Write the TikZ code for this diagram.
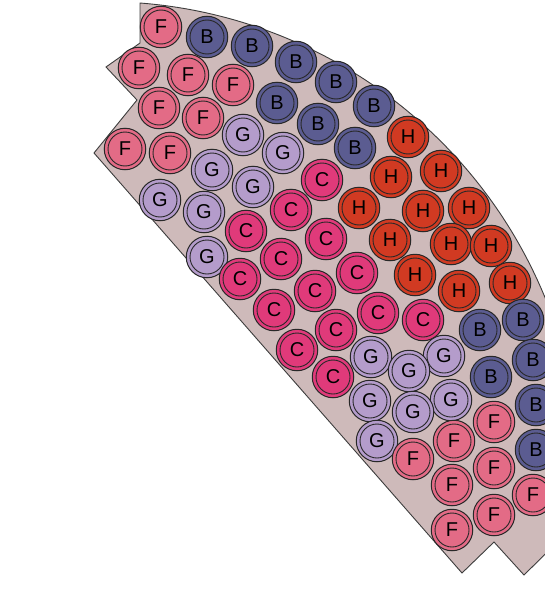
\documentclass[tikz,border=0pt]{standalone}
\usepackage{fontspec}
\setmainfont{Liberation Sans}
\definecolor{bgc}{RGB}{206,186,186}
\definecolor{colF}{RGB}{227,107,134}
\definecolor{colB}{RGB}{91,92,145}
\definecolor{colG}{RGB}{180,156,203}
\definecolor{colC}{RGB}{224,58,122}
\definecolor{colH}{RGB}{209,58,34}
\definecolor{edgec}{RGB}{40,40,40}
\tikzset{
  pinbase/.style={circle, draw=edgec, line width=1pt, minimum size=41.5pt, inner sep=0pt,
    font=\fontsize{20}{20}\selectfont, text=black,
    path picture={\draw[edgec, line width=0.9pt] (path picture bounding box.center) circle[radius=17pt];}},
  pinF/.style={pinbase, fill=colF},
  pinB/.style={pinbase, fill=colB},
  pinG/.style={pinbase, fill=colG},
  pinC/.style={pinbase, fill=colC},
  pinH/.style={pinbase, fill=colH},
  outline/.style={fill=bgc, draw=edgec!90, line width=0.9pt, line join=miter}
}
\begin{document}
\begin{tikzpicture}[x=1pt,y=-1pt]
\useasboundingbox (0,0) rectangle (545,610);
\clip (0,0) rectangle (545,610);
% outline
\coordinate (p0) at (140,3);
\draw[outline] (p0) arc[start angle=-85.56, end angle=-20, radius=478] -- (600,316) -- (600,500)
  -- (524,575) -- (494,542) -- (462,573) -- (94,153) -- (137,100) -- (106,67) -- (140,43) -- cycle;
% F
\node[pinF] (f1) at (161,27) {F};
\node[pinF] (f2) at (139,68) {F};
\node[pinF] (f3) at (188,75) {F};
\node[pinF] (f4) at (233,85) {F};
\node[pinF] (f5) at (159,108) {F};
\node[pinF] (f6) at (203,118) {F};
\node[pinF] (f7) at (125,149) {F};
\node[pinF] (f8) at (170,153) {F};
% B
\node[pinB] (b1) at (207,37) {B};
\node[pinB] (b2) at (252,46) {B};
\node[pinB] (b3) at (296,62) {B};
\node[pinB] (b4) at (336,82) {B};
\node[pinB] (b5) at (374,106) {B};
\node[pinB] (b6) at (277,103) {B};
\node[pinB] (b7) at (318,124) {B};
\node[pinB] (b8) at (355,148) {B};
% G
\node[pinG] (g1) at (243,135) {G};
\node[pinG] (g2) at (283,153) {G};
\node[pinG] (g3) at (212,170) {G};
\node[pinG] (g4) at (253,187) {G};
\node[pinG] (g5) at (160,200) {G};
\node[pinG] (g6) at (204,212) {G};
\node[pinG] (g7) at (207,257) {G};
% C
\node[pinC] (c1) at (322,180) {C};
\node[pinC] (c2) at (291,210) {C};
\node[pinC] (c3) at (246,231) {C};
\node[pinC] (c4) at (326,239) {C};
\node[pinC] (c5) at (281,259) {C};
\node[pinC] (c6) at (357,273) {C};
\node[pinC] (c7) at (240,279) {C};
\node[pinC] (c8) at (315,291) {C};
\node[pinC] (c9) at (274,310) {C};
\node[pinC] (c10) at (378,313) {C};
\node[pinC] (c11) at (336,330) {C};
\node[pinC] (c12) at (423,320) {C};
\node[pinC] (c13) at (297,350) {C};
\node[pinC] (c14) at (333,377) {C};
% H
\node[pinH] (h1) at (408,137) {H};
\node[pinH] (h2) at (441,171) {H};
\node[pinH] (h3) at (391,177) {H};
\node[pinH] (h4) at (359,208) {H};
\node[pinH] (h5) at (423,211) {H};
\node[pinH] (h6) at (469,208) {H};
\node[pinH] (h7) at (390,240) {H};
\node[pinH] (h8) at (451,244) {H};
\node[pinH] (h9) at (491,246) {H};
\node[pinH] (h10) at (415,275) {H};
\node[pinH] (h11) at (459,291) {H};
\node[pinH] (h12) at (510,283) {H};
% right B
\node[pinB] (b9) at (480,330) {B};
\node[pinB] (b10) at (523,320) {B};
\node[pinB] (b11) at (491,377) {B};
\node[pinB] (b12) at (533,360) {B};
\node[pinB] (b13) at (536,405) {B};
\node[pinB] (b14) at (536,450) {B};
% right G
\node[pinG] (g8) at (371,357) {G};
\node[pinG] (g10) at (444,356) {G};
\node[pinG] (g9) at (409,371) {G};
\node[pinG] (g11) at (370,401) {G};
\node[pinG] (g13) at (451,400) {G};
\node[pinG] (g12) at (413,412) {G};
\node[pinG] (g14) at (377,441) {G};
% bottom F
\node[pinF] (f11) at (494,422) {F};
\node[pinF] (f10) at (454,441) {F};
\node[pinF] (f9) at (413,459) {F};
\node[pinF] (f14) at (533,495) {F};
\node[pinF] (f13) at (494,468) {F};
\node[pinF] (f12) at (452,485) {F};
\node[pinF] (f15) at (494,515) {F};
\node[pinF] (f16) at (452,530) {F};
\end{tikzpicture}
\end{document}
